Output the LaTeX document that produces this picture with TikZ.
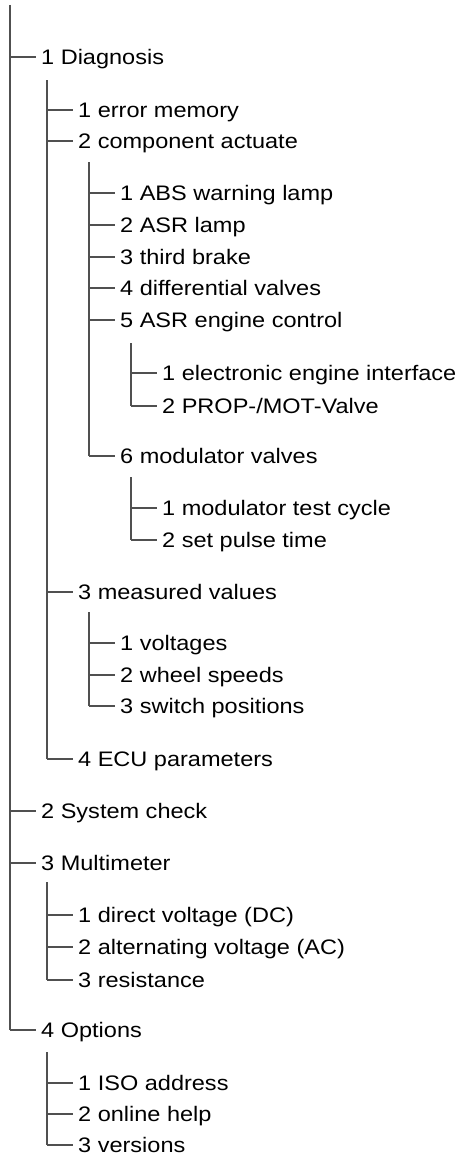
\documentclass[tikz,border=0pt]{standalone}
\usepackage{fontspec}
\setmainfont[FakeStretch=1.12]{Liberation Sans}
\definecolor{treeline}{HTML}{505050}
\begin{document}
\begin{tikzpicture}[x=1pt,y=-1pt,
  item/.style={anchor=west,inner xsep=5pt,inner ysep=0pt,text height=15pt,text depth=0pt,
    font=\fontsize{21}{25}\selectfont},
  branch/.style={draw=treeline,line width=1.1pt}]
\useasboundingbox (0,0) rectangle (472,1156);

% top level
\coordinate (r0) at (10,5);
\node[item] (diag) at (36,57)   {1 Diagnosis};
\node[item] (sys)  at (36,811)  {2 System check};
\node[item] (mult) at (36,863)  {3 Multimeter};
\node[item] (opt)  at (36,1030) {4 Options};

% 1 Diagnosis
\coordinate (r1) at (47,80);
\node[item] (err)  at (73,110) {1 error memory};
\node[item] (comp) at (73,141) {2 component actuate};
\node[item] (meas) at (73,592) {3 measured values};
\node[item] (ecu)  at (73,759) {4 ECU parameters};

% 2 component actuate
\coordinate (r2) at (89,162);
\node[item] (abs)  at (115,193) {1 ABS warning lamp};
\node[item] (asrl) at (115,225) {2 ASR lamp};
\node[item] (brk)  at (115,257) {3 third brake};
\node[item] (diff) at (115,288) {4 differential valves};
\node[item] (asre) at (115,320) {5 ASR engine control};
\node[item] (mod)  at (115,456) {6 modulator valves};

% 5 ASR engine control
\coordinate (r3) at (131,343);
\node[item] (eei)  at (157,373) {1 electronic engine interface};
\node[item] (prop) at (157,406) {2 PROP-/MOT-Valve};

% 6 modulator valves
\coordinate (r4) at (131,477);
\node[item] (mtc)  at (157,508) {1 modulator test cycle};
\node[item] (spt)  at (157,540) {2 set pulse time};

% 3 measured values
\coordinate (r5) at (89,612);
\node[item] (volt) at (115,643) {1 voltages};
\node[item] (whl)  at (115,675) {2 wheel speeds};
\node[item] (swp)  at (115,706) {3 switch positions};

% 3 Multimeter
\coordinate (r6) at (47,882);
\node[item] (dc)   at (73,915) {1 direct voltage (DC)};
\node[item] (ac)   at (73,947) {2 alternating voltage (AC)};
\node[item] (res)  at (73,980) {3 resistance};

% 4 Options
\coordinate (r7) at (47,1052);
\node[item] (iso)  at (73,1083) {1 ISO address};
\node[item] (help) at (73,1114) {2 online help};
\node[item] (ver)  at (73,1145) {3 versions};

% trunks and branches
\foreach \r/\kids/\last in {
  r0/{diag,sys,mult,opt}/opt,
  r1/{err,comp,meas,ecu}/ecu,
  r2/{abs,asrl,brk,diff,asre,mod}/mod,
  r3/{eei,prop}/prop,
  r4/{mtc,spt}/spt,
  r5/{volt,whl,swp}/swp,
  r6/{dc,ac,res}/res,
  r7/{iso,help,ver}/ver}{
  \draw[branch] (\r) -- (\r |- \last.west);
  \foreach \k in \kids {\draw[branch] (\r |- \k.west) -- (\k.west);}
}
\end{tikzpicture}
\end{document}
